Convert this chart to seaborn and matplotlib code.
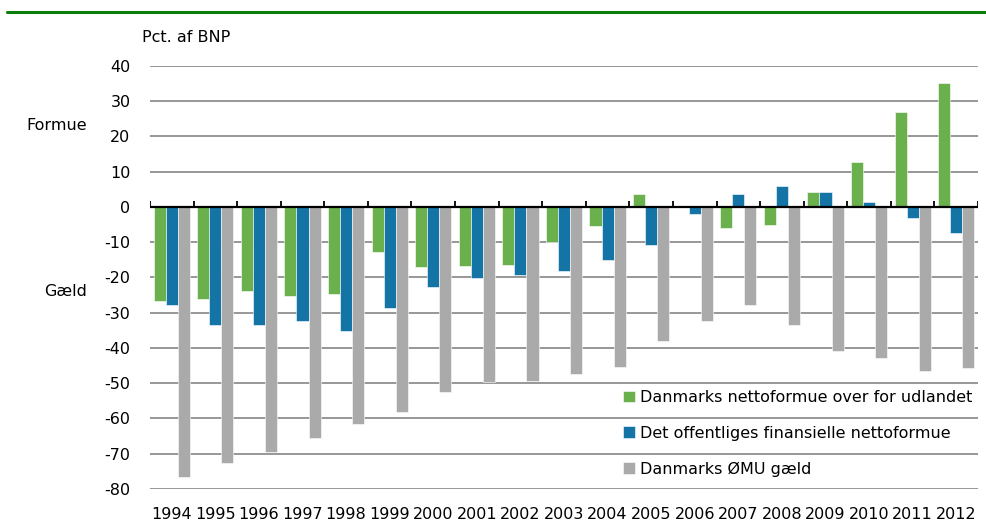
import matplotlib
matplotlib.use("Agg")
import matplotlib.pyplot as plt
from matplotlib.lines import Line2D
import seaborn as sns
import pandas as pd
import numpy as np

years = [str(y) for y in range(1994, 2013)]
nettoformue_udland = [-26.6, -26.1, -23.8, -25.4, -24.6, -12.7, -17.0, -16.7, -16.5, -9.9,
                      -5.4, 3.7, 0.0, -5.9, -5.2, 4.2, 12.7, 27.0, 35.0]
offentlig_netto = [-27.8, -33.5, -33.4, -32.5, -35.3, -28.6, -22.7, -20.3, -19.4, -18.1,
                   -15.0, -10.8, -2.1, 3.6, 5.9, 4.3, 1.5, -3.2, -7.3]
emu_gaeld = [-76.7, -72.7, -69.6, -65.6, -61.6, -58.3, -52.6, -49.8, -49.5, -47.4,
             -45.3, -38.0, -32.3, -27.8, -33.5, -40.8, -42.9, -46.5, -45.8]

series_names = ["Danmarks nettoformue over for udlandet",
                "Det offentliges finansielle nettoformue",
                "Danmarks ØMU gæld"]
colors = ["#6ab04c", "#1474a6", "#aaaaaa"]

df = pd.DataFrame({
    "year": years * 3,
    "value": nettoformue_udland + offentlig_netto + emu_gaeld,
    "serie": [series_names[0]] * len(years) + [series_names[1]] * len(years)
             + [series_names[2]] * len(years),
})

sns.set_theme(style="white")
plt.rcParams["font.family"] = ["DejaVu Sans"]
plt.rcParams["axes.unicode_minus"] = False
plt.rcParams["text.color"] = "black"
FS = 11.5

fig = plt.figure(figsize=(9.87, 5.25), dpi=100)
ax = fig.add_axes([150 / 987, 1 - 489 / 525, (978 - 150) / 987, (489 - 65.7) / 525])

sns.barplot(data=df, x="year", y="value", hue="serie", palette=colors, saturation=1,
            width=0.83, edgecolor="white", linewidth=0.4, ax=ax, zorder=2)

ax.set_xlim(-0.5, len(years) - 0.5)
ax.set_ylim(-80, 40)
ax.set_yticks(np.arange(-80, 41, 10))
ax.yaxis.grid(True, color="#858585", linewidth=1.2, zorder=0)
ax.set_axisbelow(True)
for s in ax.spines.values():
    s.set_visible(False)
ax.set_xlabel("")
ax.set_ylabel("")
ax.tick_params(axis="x", length=0, pad=13, labelsize=FS, colors="black")
ax.tick_params(axis="y", length=0, pad=14, labelsize=FS, colors="black")

# zero line with small upward ticks between the year groups
ax.axhline(0, color="black", linewidth=1.6, zorder=3)
bounds = np.arange(len(years) + 1) - 0.5
ax.vlines(bounds, 0, 1.6, color="black", linewidth=1.3, zorder=3)

ax.legend(loc="upper left", bbox_to_anchor=(623 / 987, 1 - 390 / 525),
          bbox_transform=fig.transFigure, frameon=False, fontsize=FS,
          handlelength=0.75, handleheight=0.75, handletextpad=0.3,
          labelspacing=1.3, borderpad=0, borderaxespad=0)

fig.text(142 / 987, 1 - 37 / 525, "Pct. af BNP", fontsize=FS, va="center", ha="left")
fig.text(87 / 987, 1 - 125 / 525, "Formue", fontsize=FS, va="center", ha="right")
fig.text(87 / 987, 1 - 291 / 525, "Gæld", fontsize=FS, va="center", ha="right")

fig.add_artist(Line2D([7 / 987, 1], [1 - 12 / 525] * 2, color="#0b7d0b", linewidth=2.2))

fig.savefig("out.png", dpi=100)
